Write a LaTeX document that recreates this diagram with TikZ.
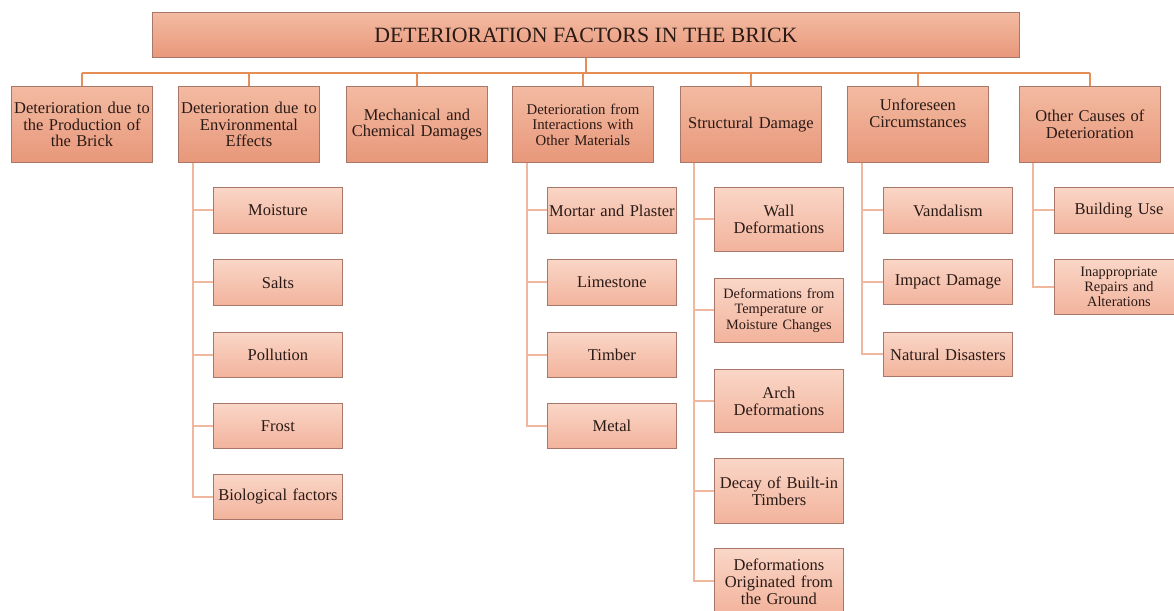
\documentclass[tikz,border=0pt]{standalone}
\usepackage{fontspec}
\setmainfont{Liberation Serif}
\definecolor{boxtop}{HTML}{F3BBA2}
\definecolor{boxbot}{HTML}{E8977A}
\definecolor{ctop}{HTML}{FAD6C7}
\definecolor{cbot}{HTML}{F2B39C}
\definecolor{edge}{HTML}{A8776A}
\definecolor{busc}{HTML}{E58E55}
\definecolor{chc}{HTML}{EFB79E}
\definecolor{txt}{HTML}{2A1A16}
\tikzset{
  base/.style={draw=edge, line width=0.9pt, align=center, text=txt, inner sep=1pt, anchor=north west},
  topbox/.style={base, top color=boxtop, bottom color=boxbot, minimum width=867pt, minimum height=45pt, font=\fontsize{21.8}{24}\selectfont},
  lone/.style={base, top color=boxtop, bottom color=boxbot, minimum width=141pt, minimum height=76pt, text width=139pt, font=\fontsize{16.5}{16.7}\selectfont},
  ltwo/.style={base, top color=ctop, bottom color=cbot, minimum width=128pt, text width=127pt, font=\fontsize{16.5}{17}\selectfont},
  bus/.style={draw=busc, line width=2pt},
  chl/.style={draw=chc, line width=2pt},
}
\begin{document}
\begin{tikzpicture}[x=1pt,y=-1pt]
\useasboundingbox[fill=white] (0,0) rectangle (1174,610);
% title
\node[topbox] (t) at (152,12) {DETERIORATION FACTORS IN THE BRICK};
% level one
\node[lone] (b1) at (11,86) {Deterioration due to\\the Production of\\the Brick};
\node[lone] (b2) at (178,86) {Deterioration due to\\Environmental\\Effects};
\node[lone] (b3) at (346,86) {Mechanical and\\Chemical Damages};
\node[lone,font=\fontsize{14.8}{15.5}\selectfont] (b4) at (512,86) {Deterioration from\\Interactions with\\Other Materials};
\node[lone] (b5) at (680,86) {Structural Damage};
\node[lone] (b6) at (847,86) {Unforeseen\\Circumstances\\[6pt]\mbox{}};
\node[lone] (b7) at (1019,86) {Other Causes of\\Deterioration};
% bus
\coordinate (busy) at (0,73);
\draw[bus] (t.south) -- (t.south |- busy);
\draw[bus] (b1.north |- busy) -- (b7.north |- busy);
\foreach \i in {1,...,7} {\draw[bus] (b\i.north) -- (b\i.north |- busy);}
% environmental children
\node[ltwo,minimum height=46pt] (e1) at (213,187) {Moisture};
\node[ltwo,minimum height=46pt] (e2) at (213,259) {Salts};
\node[ltwo,minimum height=45pt] (e3) at (213,332) {Pollution};
\node[ltwo,minimum height=45pt] (e4) at (213,403) {Frost};
\node[ltwo,minimum height=45pt] (e5) at (213,474) {Biological factors};
% interactions children
\node[ltwo,minimum height=46pt] (i1) at (547,187) {Mortar and Plaster};
\node[ltwo,minimum height=46pt] (i2) at (547,259) {Limestone};
\node[ltwo,minimum height=45pt] (i3) at (547,332) {Timber};
\node[ltwo,minimum height=45pt] (i4) at (547,403) {Metal};
% structural children
\node[ltwo,minimum height=64pt] (s1) at (714,187) {Wall\\Deformations};
\node[ltwo,minimum height=64pt,font=\fontsize{14.3}{15.5}\selectfont] (s2) at (714,278) {Deformations from\\Temperature or\\Moisture Changes};
\node[ltwo,minimum height=63pt] (s3) at (714,369) {Arch\\Deformations};
\node[ltwo,minimum height=65pt] (s4) at (714,458) {Decay of Built-in\\Timbers};
\node[ltwo,minimum height=66pt] (s5) at (714,548) {Deformations\\Originated from\\the Ground};
% unforeseen children
\node[ltwo,minimum height=46pt] (u1) at (883,187) {Vandalism};
\node[ltwo,minimum height=45pt] (u2) at (883,259) {Impact Damage};
\node[ltwo,minimum height=44pt] (u3) at (883,332) {Natural Disasters};
% other children
\node[ltwo,minimum height=46pt] (o1) at (1054,187) {Building Use};
\node[ltwo,minimum height=55pt,font=\fontsize{14.3}{15}\selectfont] (o2) at (1054,259) {Inappropriate\\Repairs and\\Alterations};
% child connectors
\coordinate (p2) at ([xshift=15pt]b2.south west);
\coordinate (p4) at ([xshift=15pt]b4.south west);
\coordinate (p5) at ([xshift=14pt]b5.south west);
\coordinate (p6) at ([xshift=15pt]b6.south west);
\coordinate (p7) at ([xshift=14pt]b7.south west);
\foreach \c in {e1,e2,e3,e4,e5} {\draw[chl] (p2) |- (\c.west);}
\foreach \c in {i1,i2,i3,i4} {\draw[chl] (p4) |- (\c.west);}
\foreach \c in {s1,s2,s3,s4,s5} {\draw[chl] (p5) |- (\c.west);}
\foreach \c in {u1,u2,u3} {\draw[chl] (p6) |- (\c.west);}
\foreach \c in {o1,o2} {\draw[chl] (p7) |- (\c.west);}
\end{tikzpicture}
\end{document}
